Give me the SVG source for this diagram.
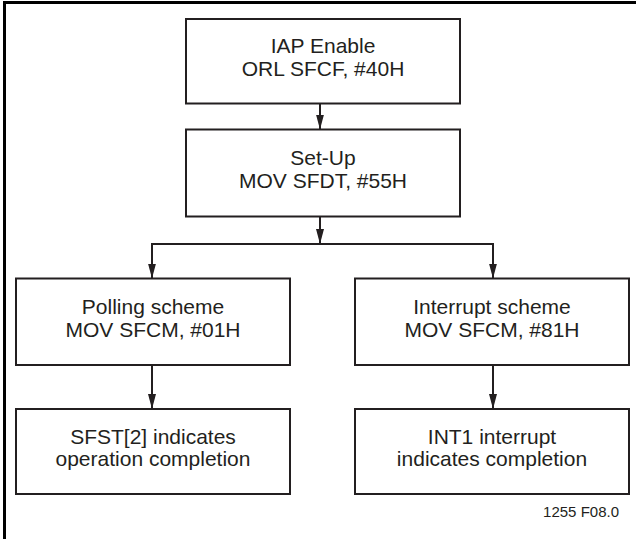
<svg xmlns="http://www.w3.org/2000/svg" width="636" height="539" viewBox="0 0 636 539">
<defs>
<style>
.box{fill:#fff;stroke:#231f20;stroke-width:2}
.t{font-family:"Liberation Sans",Arial,sans-serif;font-size:21px;fill:#231f20;text-anchor:middle}
.c{fill:none;stroke:#231f20;stroke-width:2}
.fig{font-family:"Liberation Sans",Arial,sans-serif;font-size:15px;fill:#231f20;text-anchor:end}
</style>
<marker id="ah" viewBox="0 0 15 8" refX="15" refY="4" markerWidth="15" markerHeight="8" markerUnits="userSpaceOnUse" orient="auto">
<path d="M0,0 L15,4 L0,8 Z" fill="#231f20"/>
</marker>
</defs>
<rect width="636" height="539" fill="#fff"/>
<path d="M4.5,539 V2.5 H636" fill="none" stroke="#000" stroke-width="3"/>
<g id="connectors">
<path class="c" d="M320,103.5 V129.5" marker-end="url(#ah)"/>
<path class="c" d="M320,216.5 V244" marker-end="url(#ah)"/>
<path class="c" d="M320,244 H152 V278.5" marker-end="url(#ah)"/>
<path class="c" d="M320,244 H493 V278.5" marker-end="url(#ah)"/>
<path class="c" d="M152,365 V409" marker-end="url(#ah)"/>
<path class="c" d="M493,365 V409" marker-end="url(#ah)"/>
</g>
<g id="iap-enable">
<rect class="box" x="186" y="19" width="274" height="84.5"/>
<text class="t" x="323" y="53.3">IAP Enable</text>
<text class="t" x="323" y="75.7">ORL SFCF, #40H</text>
</g>
<g id="set-up">
<rect class="box" x="186" y="129.5" width="274" height="87"/>
<text class="t" x="323" y="164.5">Set-Up</text>
<text class="t" x="323" y="187.5">MOV SFDT, #55H</text>
</g>
<g id="polling">
<rect class="box" x="16" y="278.5" width="274" height="86.5"/>
<text class="t" x="153" y="314">Polling scheme</text>
<text class="t" x="153" y="336.5">MOV SFCM, #01H</text>
</g>
<g id="interrupt">
<rect class="box" x="355" y="278.5" width="274" height="86.5"/>
<text class="t" x="492" y="314">Interrupt scheme</text>
<text class="t" x="492" y="336.5">MOV SFCM, #81H</text>
</g>
<g id="sfst">
<rect class="box" x="16" y="409" width="274" height="85"/>
<text class="t" x="153" y="443.5">SFST[2] indicates</text>
<text class="t" x="153" y="466">operation completion</text>
</g>
<g id="int1">
<rect class="box" x="355" y="409" width="274" height="85"/>
<text class="t" x="492" y="443.5">INT1 interrupt</text>
<text class="t" x="492" y="466">indicates completion</text>
</g>
<text class="fig" x="619" y="517">1255 F08.0</text>
</svg>
